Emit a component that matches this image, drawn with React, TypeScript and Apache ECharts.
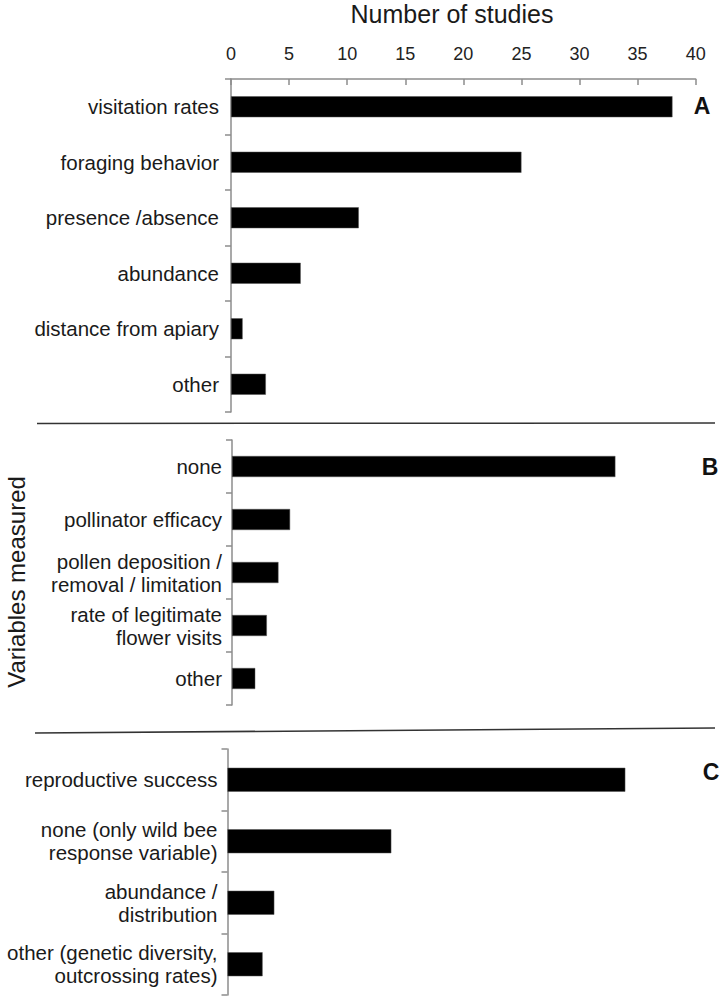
import React, { useEffect, useRef } from "react";
import * as echarts from "echarts";

const xTicks = [0, 5, 10, 15, 20, 25, 30, 35, 40];

const catsA = ["visitation rates", "foraging behavior", "presence /absence", "abundance", "distance from apiary", "other"];
const valsA = [38, 25, 11, 6, 1, 3];

const catsB = ["none", "pollinator efficacy", "pollen deposition /\nremoval / limitation", "rate of legitimate\nflower visits", "other"];
const valsB = [33, 5, 4, 3, 2];

const catsC = ["reproductive success", "none (only wild bee\nresponse variable)", "abundance /\ndistribution", "other (genetic diversity,\noutcrossing rates)"];
const valsC = [34, 14, 4, 3];

const panelLetters = ["A", "B", "C"];
const xTitle = "Number of studies";
const yTitle = "Variables measured";

const FONT = "'Liberation Sans', Arial, sans-serif";

export default function App() {
  const ref = useRef<HTMLDivElement>(null);
  useEffect(() => {
    if (!ref.current) return;
    const chart = echarts.init(ref.current, undefined, { renderer: "svg" });
    const grids = [
      { left: 231, top: 79, width: 464.7, height: 333 },
      { left: 232, top: 440, width: 464.7, height: 265 },
      { left: 227.5, top: 749, width: 468, height: 246 },
    ];
    const cats = [catsA, catsB, catsC];
    const vals = [valsA, valsB, valsC];
    const barWidths = [21, 21, 24];
    const xMin = xTicks[0];
    const xMax = xTicks[xTicks.length - 1];
    const xInterval = xTicks[1] - xTicks[0];
    const option: any = {
      animation: false,
      backgroundColor: "#ffffff",
      grid: grids.map((g) => ({ ...g, containLabel: false })),
      xAxis: grids.map((_, i) => ({
        type: "value",
        gridIndex: i,
        position: "top",
        min: xMin,
        max: xMax,
        interval: xInterval,
        show: i === 0,
        splitLine: { show: false },
        axisLine: { show: true, lineStyle: { color: "#8c8c8c", width: 1.5 } },
        axisTick: { show: true, inside: true, length: 6, lineStyle: { color: "#8c8c8c", width: 1.5 } },
        axisLabel: { fontSize: 18, color: "#222", fontFamily: FONT, margin: 16 },
      })),
      yAxis: grids.map((_, i) => ({
        type: "category",
        gridIndex: i,
        inverse: true,
        data: cats[i],
        axisLine: { show: true, lineStyle: { color: "#8c8c8c", width: 1.5 } },
        axisTick: { show: true, length: 6, lineStyle: { color: "#8c8c8c", width: 1.5 } },
        axisLabel: {
          fontSize: 20.5,
          color: "#1a1a1a",
          fontFamily: FONT,
          margin: i === 0 ? 12 : 10,
          lineHeight: 23,
          align: "right",
        },
      })),
      series: grids.map((_, i) => ({
        type: "bar",
        xAxisIndex: i,
        yAxisIndex: i,
        data: vals[i],
        barWidth: barWidths[i],
        itemStyle: { color: "#000000", borderColor: "#555", borderWidth: 0.5 },
      })),
      graphic: [
        {
          type: "text",
          x: 452,
          y: 14,
          style: { text: xTitle, fill: "#1a1a1a", font: `25px ${FONT}`, textAlign: "center", textVerticalAlign: "middle" },
        },
        {
          type: "text",
          x: 16,
          y: 582,
          rotation: Math.PI / 2,
          style: { text: yTitle, fill: "#1a1a1a", font: `24px ${FONT}`, textAlign: "center", textVerticalAlign: "middle" },
        },
        {
          type: "text",
          x: 702,
          y: 106,
          style: { text: panelLetters[0], fill: "#111", font: `bold 23px ${FONT}`, textAlign: "center", textVerticalAlign: "middle" },
        },
        {
          type: "text",
          x: 710,
          y: 467,
          style: { text: panelLetters[1], fill: "#111", font: `bold 23px ${FONT}`, textAlign: "center", textVerticalAlign: "middle" },
        },
        {
          type: "text",
          x: 711,
          y: 772,
          style: { text: panelLetters[2], fill: "#111", font: `bold 23px ${FONT}`, textAlign: "center", textVerticalAlign: "middle" },
        },
        {
          type: "line",
          shape: { x1: 37, y1: 423.5, x2: 715, y2: 423 },
          style: { stroke: "#333", lineWidth: 1.5 },
        },
        {
          type: "line",
          shape: { x1: 35, y1: 733, x2: 715, y2: 728 },
          style: { stroke: "#333", lineWidth: 1.5 },
        },
      ],
    };
    chart.setOption(option);
    return () => chart.dispose();
  }, []);
  return (
    <div
      ref={ref}
      style={{ position: "absolute", left: 0, top: 0, width: 723, height: 1000 }}
    />
  );
}
